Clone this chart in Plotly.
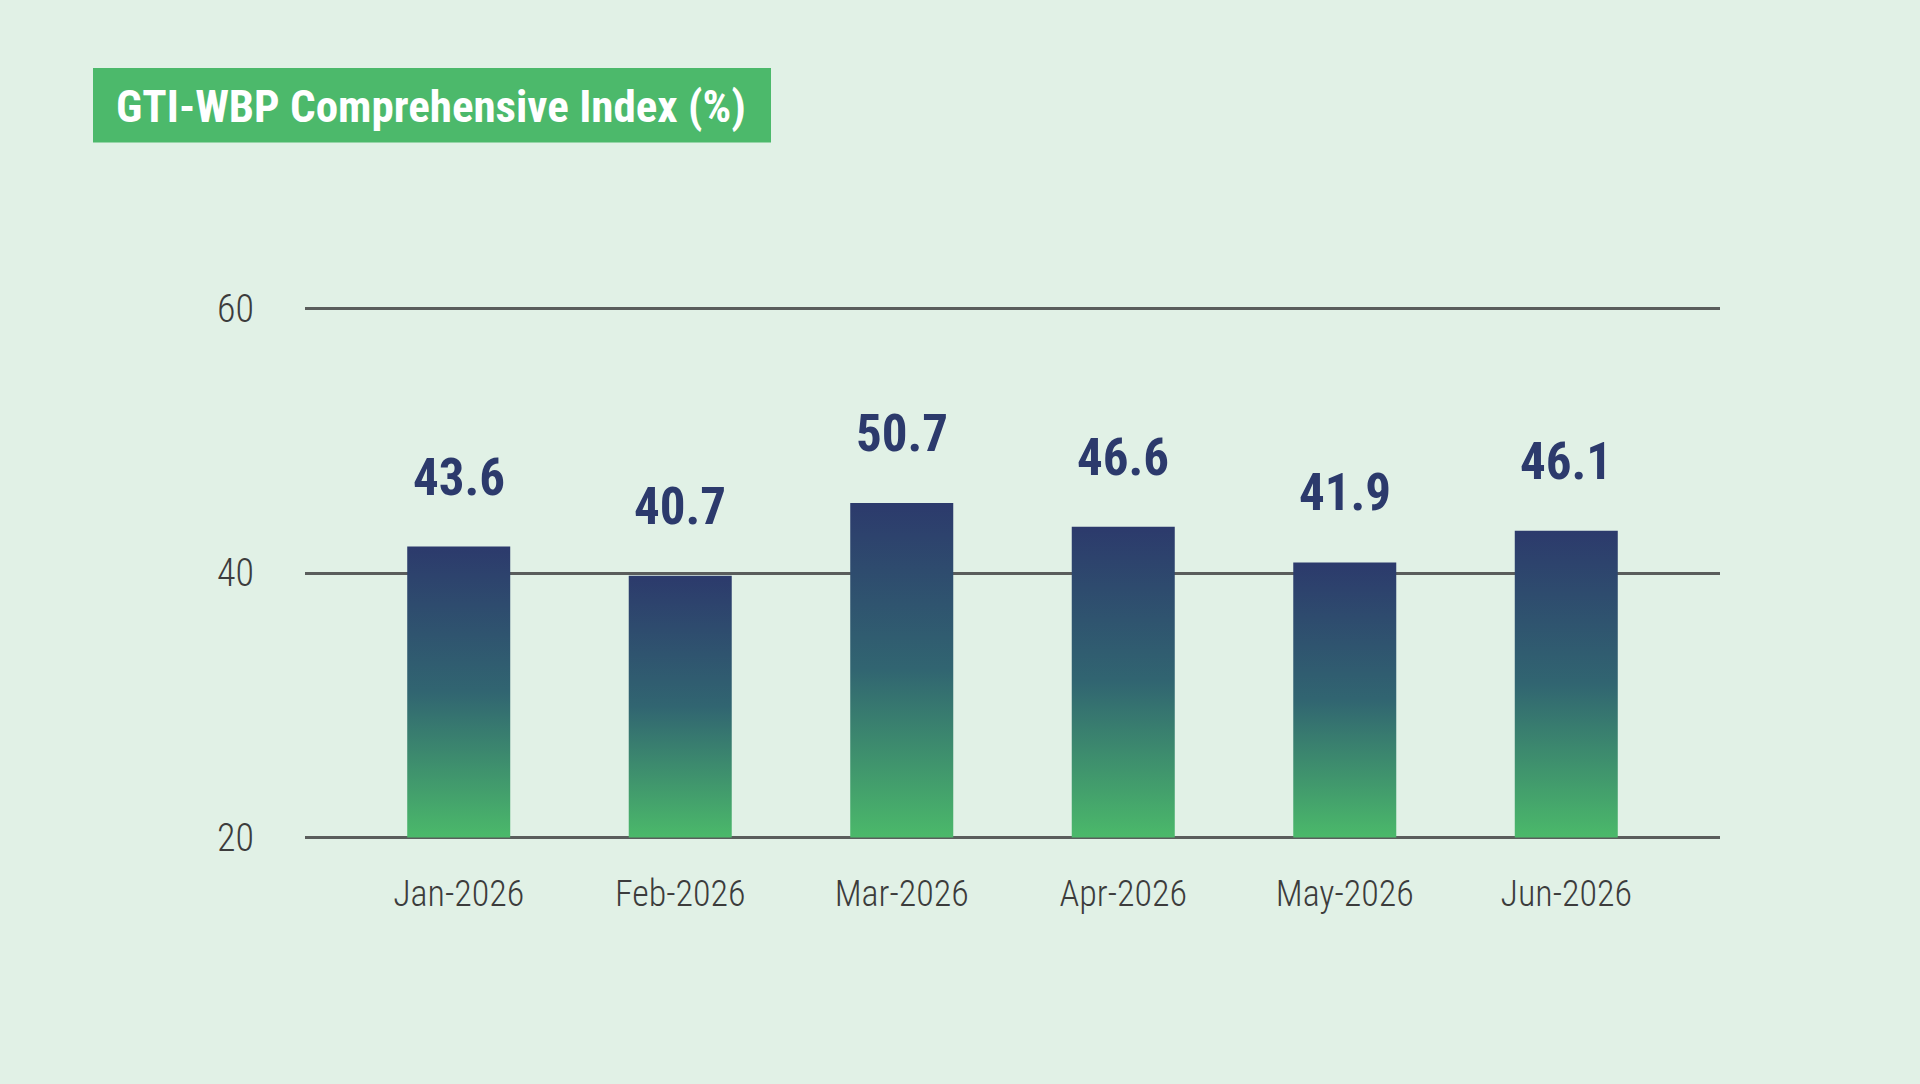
import plotly.graph_objects as go

# ---- data ----
categories = ["Jan-2026", "Feb-2026", "Mar-2026", "Apr-2026", "May-2026", "Jun-2026"]
label_values = [43.6, 40.7, 50.7, 46.6, 41.9, 46.1]
# bar heights as drawn on the reference axis (they are not proportional to the labels)
bar_heights = [42.0, 39.8, 45.3, 43.5, 40.8, 43.2]
y_ticks = [20, 40, 60]

# ---- style ----
W, H = 1920, 1084
L, R, T, B = 305, 200, 302, 240
BG = "#e1f1e6"
NAVY = "#2c3a6c"
GREEN = "#4cb96b"
GRID = "#5a5d5c"
TICK = "#3c3c3c"
FONT_COND = ("Roboto Condensed, Open Sans Condensed, Liberation Sans Narrow, "
             "DejaVu Sans Condensed, sans-serif")
BAR_HALF = 0.2325
BASE = 20

fig = go.Figure()

for i, (cat, h) in enumerate(zip(categories, bar_heights)):
    fig.add_trace(go.Scatter(
        x=[i - BAR_HALF, i + BAR_HALF, i + BAR_HALF, i - BAR_HALF, i - BAR_HALF],
        y=[BASE, BASE, h, h, BASE],
        mode="lines",
        line=dict(width=0, color="rgba(0,0,0,0)"),
        fill="toself",
        fillgradient=dict(
            type="vertical",
            colorscale=[[0.0, "#4bb96a"], [0.5, "#316571"], [1.0, NAVY]],
        ),
        name=cat,
        hoverinfo="skip",
        showlegend=False,
    ))

# value labels above bars
for i, (h, v) in enumerate(zip(bar_heights, label_values)):
    fig.add_annotation(
        x=i, y=h, xref="x", yref="y",
        text=f"{v:.1f}",
        showarrow=False,
        yanchor="bottom",
        yshift=38,
        font=dict(family=FONT_COND, size=51, color=NAVY, weight="bold"),
    )

plot_w = W - L - R
plot_h = H - T - B


def px_x(px):
    return (px - L) / plot_w


def px_y(py):
    return (H - B - py) / plot_h


# title box
fig.add_shape(
    type="rect", xref="paper", yref="paper",
    x0=px_x(93), x1=px_x(771), y0=px_y(142.5), y1=px_y(68),
    fillcolor=GREEN, line=dict(width=0), layer="above",
)
fig.add_annotation(
    xref="paper", yref="paper",
    x=px_x(114), y=px_y(106),
    xanchor="left", yanchor="middle",
    text="GTI-WBP Comprehensive Index (%)",
    showarrow=False,
    font=dict(family=FONT_COND, size=45, color="white", weight="bold"),
)

fig.update_layout(
    width=W, height=H,
    margin=dict(l=L, r=R, t=T, b=B, pad=0),
    paper_bgcolor=BG,
    plot_bgcolor=BG,
    showlegend=False,
    xaxis=dict(
        range=[-0.694, 5.694],
        tickmode="array",
        tickvals=list(range(len(categories))),
        ticktext=categories,
        showgrid=False,
        zeroline=False,
        showline=False,
        ticks="",
        ticklabelstandoff=25,
        tickfont=dict(family=FONT_COND, size=36, color=TICK, weight=300),
        fixedrange=True,
    ),
    yaxis=dict(
        range=[19.5, 60.5],
        tickmode="array",
        tickvals=y_ticks,
        ticktext=[str(t) for t in y_ticks],
        showgrid=True,
        gridcolor=GRID,
        gridwidth=2.5,
        zeroline=False,
        showline=False,
        ticks="",
        ticklabelstandoff=50,
        tickfont=dict(family=FONT_COND, size=38, color=TICK, weight=300),
        fixedrange=True,
    ),
)

fig.write_html("out.html")
